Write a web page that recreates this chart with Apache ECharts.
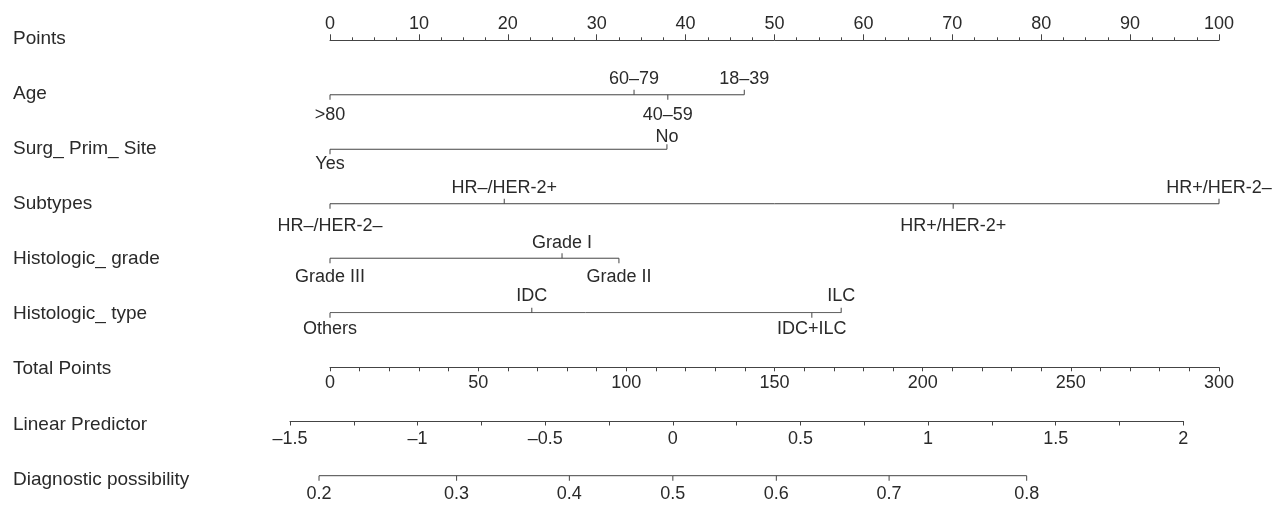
<!DOCTYPE html>
<html><head><meta charset="utf-8">
<script src="https://cdn.jsdelivr.net/npm/echarts@6/dist/echarts.min.js"></script>
<style>html,body{margin:0;padding:0;background:#fff}#c{width:1275px;height:507px}</style>
</head><body><div id="c"></div>
<script>
// ---- data ----
const rowNames = ['Points','Age','Surg_ Prim_ Site','Subtypes','Histologic_ grade','Histologic_ type','Total Points','Linear Predictor','Diagnostic possibility'];
const ageLevels = ['>80','60–79','40–59','18–39'];
const agePoints = [0, 34.2, 38.0, 46.6];
const surgLevels = ['Yes','No'];
const surgPoints = [0, 37.9];
const subtypeLevels = ['HR–/HER-2–','HR–/HER-2+','HR+/HER-2+','HR+/HER-2–'];
const subtypePoints = [0, 19.6, 70.1, 100];
const gradeLevels = ['Grade III','Grade I','Grade II'];
const gradePoints = [0, 26.1, 32.5];
const typeLevels = ['Others','IDC','IDC+ILC','ILC'];
const typePoints = [0, 22.7, 54.2, 57.5];
const pointsRange = [0, 100];
const totalRange = [0, 300];
const lpRange = [-1.5, 2];
const probTicks = [0.2, 0.3, 0.4, 0.5, 0.6, 0.7, 0.8];

// ---- layout / style ----
const LINE = '#444444', TEXT = '#2a2a2a', FONT = '"Liberation Sans", Arial, sans-serif', FS = 18;
const sides = {
  age: ['b','t','b','t'], surg: ['b','t'], subtype: ['b','t','b','t'],
  grade: ['b','t','b'], type: ['b','t','b','t']
};
const gaps = { age:[1.3,6.5], surg:[-1.7,1], subtype:[2,8], grade:[0.7,4.5], type:[3,2.5] };

function rowSeries(rowName, levels, pts, sd, gp) {
  return [
    { type:'line', xAxisIndex:0, yAxisIndex:0, symbol:'none', silent:true, clip:false,
      lineStyle:{color:LINE, width:1, opacity:1},
      data:[[Math.min(...pts), rowName],[Math.max(...pts), rowName]] },
    { type:'scatter', xAxisIndex:0, yAxisIndex:0, symbol:'rect', symbolSize:[1,5], silent:true, clip:false,
      itemStyle:{color:LINE, opacity:1},
      data: pts.map((p,i)=>({
        value:[p, rowName], lab: levels[i],
        symbolOffset:[0, sd[i]==='t' ? -2.5 : 2.5],
        label:{show:true, position: sd[i]==='t' ? 'top' : 'bottom', distance: sd[i]==='t' ? gp[0] : gp[1],
          formatter: prm => prm.data.lab, color:TEXT, opacity:1, fontSize:FS, fontFamily:FONT}
      })) }
  ];
}
const logit = p => Math.log(p/(1-p));
const lpFmt = v => v < 0 ? '–' + Math.abs(v) : String(v);

const axisLineStyle = {show:true, lineStyle:{color:LINE, width:1}};
const lbl = (m, f) => ({show:true, color:TEXT, fontSize:FS, fontFamily:FONT, margin:m, formatter:f, showMinLabel:true, showMaxLabel:true, hideOverlap:false});

const option = {
  animation:false,
  backgroundColor:'#fff',
  textStyle:{fontFamily:FONT},
  grid:[
    {left:330, right:56, top:40.3, height:272.4},
    {left:330, right:56, top:357.3, height:10},
    {left:290, right:91.7, top:411, height:10},
    {left:290, right:91.7, top:465.7, height:10},
    {left:330, width:10, top:38.5, height:441}
  ],
  xAxis:[
    {gridIndex:0, type:'value', position:'top', min:pointsRange[0], max:pointsRange[1], interval:10,
      axisLine:axisLineStyle, axisTick:{show:true, length:6, lineStyle:{color:LINE}},
      minorTick:{show:true, splitNumber:4, length:3, lineStyle:{color:LINE}},
      splitLine:{show:false}, minorSplitLine:{show:false}, axisLabel:lbl(7)},
    {gridIndex:1, type:'value', position:'bottom', min:totalRange[0], max:totalRange[1], interval:50,
      axisLine:axisLineStyle, axisTick:{show:true, length:4, lineStyle:{color:LINE}},
      minorTick:{show:true, splitNumber:5, length:4, lineStyle:{color:LINE}},
      splitLine:{show:false}, minorSplitLine:{show:false}, axisLabel:lbl(7)},
    {gridIndex:2, type:'value', position:'bottom', min:lpRange[0], max:lpRange[1], interval:0.5,
      axisLine:axisLineStyle, axisTick:{show:true, length:4.5, lineStyle:{color:LINE}},
      minorTick:{show:true, splitNumber:2, length:4.5, lineStyle:{color:LINE}},
      splitLine:{show:false}, minorSplitLine:{show:false}, axisLabel:lbl(9, lpFmt)},
    {gridIndex:3, type:'value', show:false, min:lpRange[0], max:lpRange[1]},
    {gridIndex:4, type:'value', show:false}
  ],
  yAxis:[
    {gridIndex:0, type:'category', data:rowNames.slice(0,6), inverse:true, boundaryGap:false, show:false},
    {gridIndex:1, type:'value', min:0, max:1, show:false},
    {gridIndex:2, type:'value', min:0, max:1, show:false},
    {gridIndex:3, type:'value', min:0, max:1, show:false},
    {gridIndex:4, type:'category', data:rowNames, inverse:true, boundaryGap:false,
      axisLine:{show:false}, axisTick:{show:false}, splitLine:{show:false},
      axisLabel:{show:true, align:'left', margin:317, color:TEXT, fontSize:19, fontFamily:FONT, interval:0}}
  ],
  series:[
    ...rowSeries(rowNames[1], ageLevels, agePoints, sides.age, gaps.age),
    ...rowSeries(rowNames[2], surgLevels, surgPoints, sides.surg, gaps.surg),
    ...rowSeries(rowNames[3], subtypeLevels, subtypePoints, sides.subtype, gaps.subtype),
    ...rowSeries(rowNames[4], gradeLevels, gradePoints, sides.grade, gaps.grade),
    ...rowSeries(rowNames[5], typeLevels, typePoints, sides.type, gaps.type),
    { type:'line', xAxisIndex:3, yAxisIndex:3, symbol:'none', silent:true, clip:false,
      lineStyle:{color:LINE, width:1},
      data:[[logit(probTicks[0]),0],[logit(probTicks[probTicks.length-1]),0]] },
    { type:'scatter', xAxisIndex:3, yAxisIndex:3, symbol:'rect', symbolSize:[1,5], symbolOffset:[0,2.5],
      silent:true, clip:false, itemStyle:{color:LINE, opacity:1},
      label:{show:true, position:'bottom', distance:4.5, color:TEXT, opacity:1, fontSize:FS, fontFamily:FONT,
        formatter: prm => String(prm.data.p)},
      data: probTicks.map(p => ({value:[logit(p),0], p:p})) }
  ]
};
const chart = echarts.init(document.getElementById('c'), null, {renderer:'canvas'});
chart.setOption(option);
</script>
</body></html>
